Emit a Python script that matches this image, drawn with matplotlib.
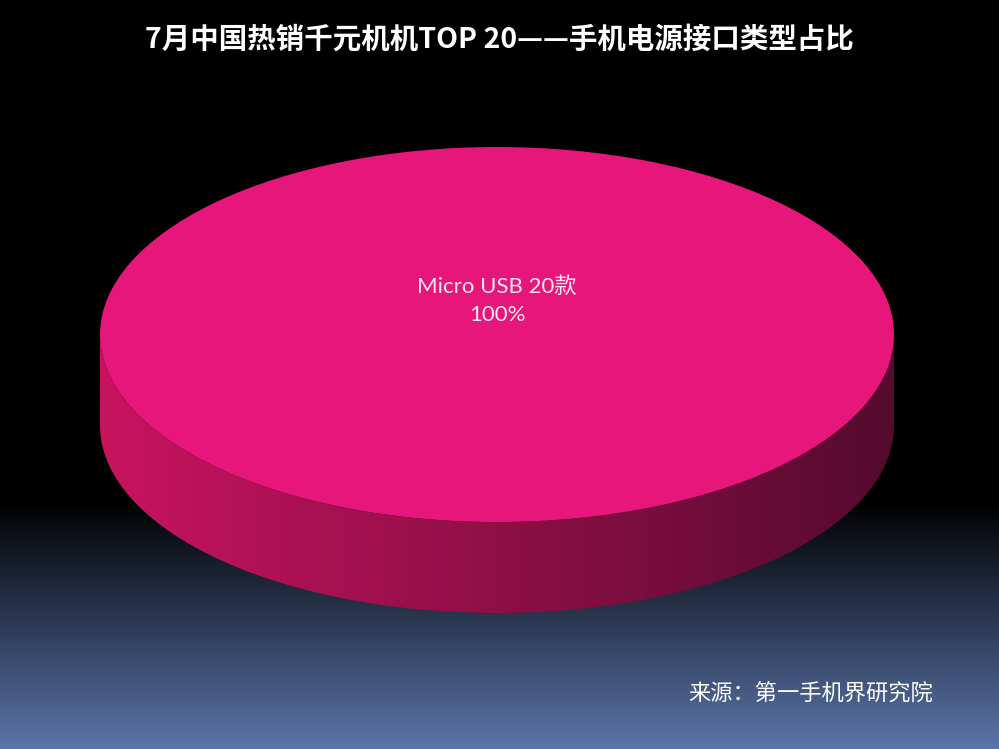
import numpy as np
import matplotlib
matplotlib.use("Agg")
import matplotlib.pyplot as plt
from matplotlib.path import Path
from matplotlib.patches import PathPatch
from matplotlib.colors import LinearSegmentedColormap

# data
categories = ['Micro USB']
counts = [20]
title = '7月中国热销千元机机TOP 20——手机电源接口类型占比'
source = '来源：第一手机界研究院'

top_color = '#e6167a'
side_left = '#c8145f'
side_right = '#550a2e'

fig = plt.figure(figsize=(9.99, 7.49), dpi=100)

# background: black fading to blue at the bottom
bg = fig.add_axes([0, 0, 1, 1])
bg.set_xlim(0, 1)
bg.set_ylim(0, 1)
bg.axis('off')
bg_cmap = LinearSegmentedColormap.from_list(
    'bg', [(0, '#5a74a8'), (0.33, '#000000'), (1, '#000000')])
grad = np.linspace(0, 1, 400).reshape(-1, 1)
bg.imshow(grad, cmap=bg_cmap, extent=(0, 1, 0, 1), origin='lower',
          aspect='auto', zorder=0)

# pie axes (squashed to an ellipse)
depth = 0.485
ax = fig.add_axes([100 / 999, 136 / 749, 794 / 999, 466 / 749])
total = sum(counts)
labels = ['%s %d款\n%d%%' % (c, v, round(v * 100 / total))
          for c, v in zip(categories, counts)]
wedges, texts = ax.pie(counts, labels=labels, colors=[top_color],
                       startangle=-90, labeldistance=0.18, radius=1,
                       wedgeprops=dict(linewidth=0, zorder=3),
                       textprops=dict(color='#fbe6f0', fontsize=16,
                                      family=['Lato', 'Noto Sans CJK SC']))
for t in texts:
    t.set_ha('center')
    t.set_va('center')
    t.set_multialignment('center')
    t.set_linespacing(1.5)
    t.set_zorder(5)
ax.set_aspect('auto')
ax.set_xlim(-1, 1)
ax.set_ylim(-1 - depth, 1)
ax.axis('off')

# side of the cylinder with horizontal shading
th = np.linspace(np.pi, 2 * np.pi, 200)
upper = np.column_stack([np.cos(th), np.sin(th)])
lower = np.column_stack([np.cos(th[::-1]), np.sin(th[::-1]) - depth])
side_path = Path(np.vstack([upper, lower, upper[:1]]), closed=True)
side_patch = PathPatch(side_path, facecolor='none', edgecolor='none')
ax.add_patch(side_patch)
side_cmap = LinearSegmentedColormap.from_list('side', [side_left, side_right])
im = ax.imshow(np.linspace(0, 1, 300).reshape(1, -1), cmap=side_cmap,
               extent=(-1, 1, -1 - depth, 0), aspect='auto', zorder=2)
im.set_clip_path(side_patch)
ax.set_xlim(-1, 1)
ax.set_ylim(-1 - depth, 1)

fig.text(0.5, 1 - 40 / 749, title, ha='center', va='center', color='white',
         fontsize=20.5, fontweight='bold',
         family=['Noto Sans CJK SC', 'DejaVu Sans'])
fig.text(933 / 999, 1 - 693 / 749, source, ha='right', va='center',
         color='white', fontsize=16,
         family=['Noto Sans CJK SC', 'DejaVu Sans'])

fig.savefig('out.png', dpi=100)
